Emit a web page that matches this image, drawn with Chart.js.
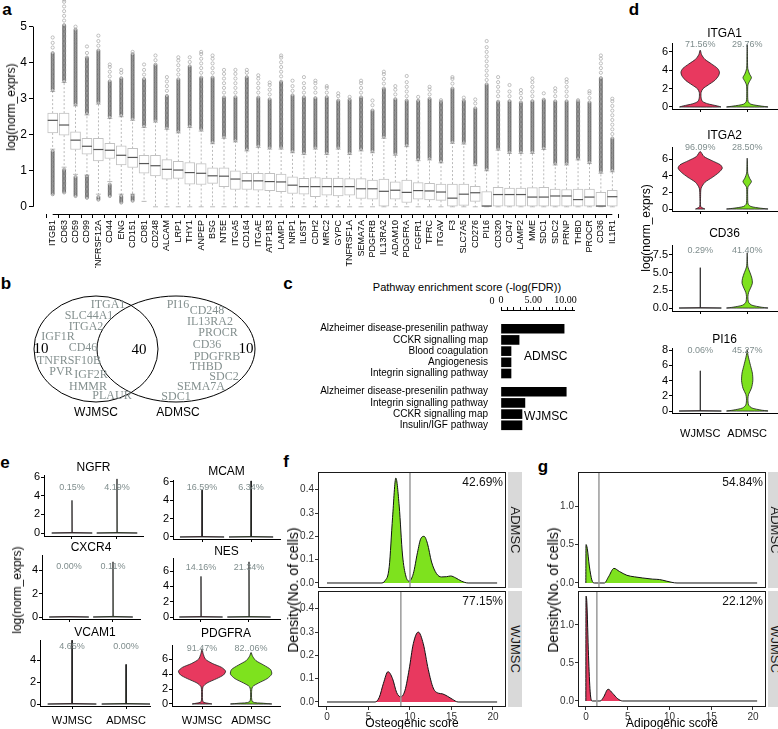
<!DOCTYPE html>
<html><head><meta charset="utf-8">
<script src="https://cdn.jsdelivr.net/npm/chart.js@4.4.1/dist/chart.umd.min.js"></script>
<style>
body{margin:0;background:#fff;}
#wrap{position:relative;width:778px;height:729px;overflow:hidden;background:#fff;font-family:"Liberation Sans",Arial,sans-serif;}
canvas{position:absolute;}
.t{position:absolute;white-space:nowrap;color:#000;line-height:1;}
.strip{position:absolute;background:#d9d9d9;overflow:hidden;}
</style></head><body><div id="wrap"></div>
<script>
// ================= DATA =================
// Panel a: expression box plots of 50 surface markers
const geneNames = ['ITGB1','CD63','CD59','CD99','TNFRSF12A','CD44','ENG','CD151','CD81','CD248','ALCAM','LRP1','THY1','ANPEP','BSG','NT5E','ITGA5','CD164','ITGAE','ATP1B3','LAMP1','NRP1','IL6ST','CDH2','MRC2','GYPC','TNFRSF1A','SEMA7A','PDGFRB','IL13RA2','ADAM10','PDGFRA','FGFR1','TFRC','ITGAV','F3','SLC7A5','CD276','PI16','CD320','CD47','LAMP2','MME','SDC1','SDC2','PRNP','THBD','PROCR','CD36','IL1R1'];
const boxQ1 = [2.05,1.99,1.59,1.46,1.27,1.34,1.16,1.09,0.93,0.86,0.77,0.79,0.63,0.62,0.65,0.56,0.48,0.48,0.46,0.45,0.42,0.37,0.35,0.28,0.32,0.30,0.32,0.23,0.21,0.02,0.21,0.12,0.21,0.19,0.18,0.02,0.04,0.15,0.00,0.02,0.02,0.02,0.02,0.02,0.02,0.02,0.02,0.02,0.00,0.02];
const boxMedian = [2.40,2.27,1.85,1.68,1.59,1.57,1.43,1.37,1.20,1.14,1.04,1.02,0.95,0.93,0.86,0.85,0.77,0.72,0.72,0.70,0.69,0.60,0.56,0.56,0.56,0.56,0.56,0.50,0.50,0.43,0.46,0.40,0.45,0.44,0.41,0.24,0.35,0.39,0.02,0.34,0.34,0.34,0.27,0.27,0.30,0.30,0.20,0.27,0.02,0.28];
const boxQ3 = [2.60,2.60,2.08,1.90,1.90,1.76,1.69,1.62,1.43,1.43,1.31,1.26,1.23,1.20,1.08,1.08,1.00,0.93,0.93,0.93,0.91,0.83,0.79,0.81,0.80,0.80,0.78,0.78,0.74,0.77,0.69,0.74,0.67,0.65,0.63,0.63,0.63,0.57,0.42,0.54,0.52,0.52,0.53,0.54,0.49,0.48,0.49,0.49,0.40,0.46];
const whiskerHigh = [3.20,3.45,2.80,2.55,2.85,2.45,2.50,2.40,2.20,2.35,2.15,2.05,2.20,2.10,1.75,1.90,1.80,1.55,1.65,1.60,1.60,1.50,1.45,1.60,1.45,1.60,1.45,1.55,1.50,1.90,1.43,1.67,1.28,1.30,1.22,1.76,1.74,1.14,1.00,1.57,1.48,1.48,1.48,1.59,1.16,1.16,1.30,1.20,0.93,0.97];
const whiskerLow = [1.60,1.10,0.90,0.88,0.35,0.70,0.35,0.35,0.15,0,0,0,0,0,0,0,0,0,0,0,0,0,0,0,0,0,0,0,0,0,0,0,0,0,0,0,0,0,0,0,0,0,0,0,0,0,0,0,0,0];
const outlierDenseTop = [4.30,5.05,4.95,4.15,4.35,3.50,3.60,4.25,3.55,3.95,3.10,3.55,3.90,3.60,3.60,3.05,3.05,3.60,3.05,3.00,3.50,3.10,3.05,3.05,3.05,2.95,3.00,3.05,2.70,3.30,3.00,2.95,2.95,3.00,2.95,3.30,2.95,2.75,3.40,2.95,2.95,2.90,2.95,3.00,2.95,2.95,2.95,2.90,3.60,1.90];
const outlierMax = [4.70,5.75,5.00,4.45,4.75,3.95,3.80,4.30,3.95,4.20,3.60,4.15,4.15,4.30,4.20,3.80,3.80,3.80,3.65,3.45,4.20,3.50,3.60,3.50,3.35,3.15,3.05,3.50,2.95,3.75,3.35,3.63,3.05,3.33,2.96,3.60,3.03,2.98,4.60,3.60,3.38,3.24,3.56,3.15,3.29,3.54,2.96,3.21,4.20,3.00];
const lowOutlierFrom = [0.35,0.40,0.30,0.25,0.20,0.30,0.12,0.17];
const lowOutlierTo   = [1.55,1.05,0.85,0.85,0.30,0.65,0.30,0.32];
const aYTicks = [0,1,2,3,4,5];

// Panel b: Venn diagram
const vennSets = ['WJMSC','ADMSC'];
const vennCounts = [10, 40, 10];
const wjOnlyGenes = ['ITGA1','SLC44A1','ITGA2','IGF1R','CD46','TNFRSF10B','PVR','IGF2R','HMMR','PLAUR'];
const adOnlyGenes = ['PI16','CD248','IL13RA2','PROCR','CD36','PDGFRB','THBD','SDC2','SEMA7A','SDC1'];

// Panel c: pathway enrichment
const admscPathways = ['Alzheimer disease-presenilin pathway','CCKR signalling map','Blood coagulation','Angiogenesis','Integrin signalling pathway'];
const admscScores = [9.77, 2.8, 1.55, 1.55, 1.55];
const wjmscPathways = ['Alzheimer disease-presenilin pathway','Integrin signalling pathway','CCKR signalling map','Insulin/IGF pathway'];
const wjmscScores = [10.1, 3.7, 3.25, 3.25];
const scoreTickLabels = {0:'0', 5:'5.00', 10:'10.00'};

// Violin groups
const groupNames = ['WJMSC','ADMSC'];
// Panel d violins: [expression, half-width]
const ITGA1_WJ = [[0,0.44],[0.12,0.36],[0.35,0.16],[0.6,0.05],[1.0,0.02],[1.6,0.02],[2.0,0.06],[2.4,0.17],[2.9,0.31],[3.4,0.39],[3.8,0.41],[4.2,0.37],[4.7,0.24],[5.2,0.1],[5.7,0.03],[6.2,0]];
const ITGA1_AD = [[0,0.44],[0.1,0.3],[0.3,0.08],[0.6,0.02],[1.5,0.01],[2.4,0.015],[2.8,0.05],[3.2,0.09],[3.6,0.05],[4.2,0.012],[5.5,0.006],[6.8,0]];
const ITGA2_WJ = [[0,0.1],[0.1,0.06],[0.3,0.01],[1.5,0.008],[2.5,0.02],[3.2,0.1],[3.8,0.26],[4.4,0.4],[4.9,0.47],[5.3,0.43],[5.8,0.25],[6.3,0.08],[6.9,0]];
const ITGA2_AD = [[0,0.44],[0.1,0.28],[0.3,0.08],[0.6,0.02],[1.5,0.01],[2.6,0.015],[3.0,0.06],[3.3,0.09],[3.7,0.05],[4.3,0.012],[5.3,0.006],[6.1,0]];
const CD36_WJ = [[0,0.45],[0.05,0.004],[5.7,0]];
const CD36_AD = [[0,0.44],[0.12,0.3],[0.4,0.1],[0.8,0.03],[1.6,0.015],[2.2,0.03],[2.8,0.07],[3.5,0.11],[4.2,0.1],[5.0,0.06],[5.8,0.015],[6.8,0.005],[7.8,0]];
const PI16_WJ = [[0,0.45],[0.05,0.004],[5.3,0]];
const PI16_AD = [[0,0.44],[0.12,0.3],[0.4,0.1],[0.8,0.03],[1.6,0.015],[2.2,0.03],[3.0,0.09],[4.0,0.12],[5.0,0.11],[6.0,0.07],[7.0,0.03],[7.6,0.01],[8.1,0]];
const dGenes = ['ITGA1','ITGA2','CD36','PI16'];
const dPctWJ = ['71.56%','96.09%','0.29%','0.06%'];
const dPctAD = ['29.76%','28.50%','41.40%','45.27%'];

// Panel e violins
const NGFR_WJ = [[0,0.45],[0.05,0.004],[3.5,0]];
const NGFR_AD = [[0,0.45],[0.05,0.004],[5.8,0]];
const CXCR4_WJ = [[0,0.45],[0.04,0.003],[0.06,0]];
const CXCR4_AD = [[0,0.45],[0.05,0.004],[4.7,0]];
const VCAM1_WJ = [[0,0.45],[0.05,0.004],[5.8,0]];
const VCAM1_AD = [[0,0.45],[0.05,0.004],[3.6,0]];
const MCAM_WJ = [[0,0.45],[0.05,0.004],[5.1,0]];
const MCAM_AD = [[0,0.45],[0.05,0.004],[6.1,0]];
const NES_WJ = [[0,0.45],[0.05,0.004],[5.3,0]];
const NES_AD = [[0,0.45],[0.05,0.004],[7.2,0]];
const PDGFRA_WJ = [[0,0.2],[0.1,0.12],[0.3,0.02],[1.5,0.01],[2.3,0.02],[2.8,0.1],[3.4,0.3],[3.9,0.44],[4.4,0.48],[4.9,0.4],[5.4,0.22],[6.0,0.07],[6.8,0.02],[7.4,0]];
const PDGFRA_AD = [[0,0.42],[0.1,0.25],[0.3,0.03],[1.5,0.01],[2.3,0.03],[2.8,0.15],[3.4,0.33],[4.0,0.42],[4.6,0.4],[5.2,0.26],[5.8,0.1],[6.4,0.03],[6.9,0]];
const eGenes = ['NGFR','CXCR4','VCAM1','MCAM','NES','PDGFRA'];
const ePctWJ = ['0.15%','0.00%','4.65%','16.59%','14.16%','91.47%'];
const ePctAD = ['4.19%','0.11%','0.00%','6.34%','21.34%','82..06%'];

// Panels f, g: density of scores
const scoreTicks = [0,5,10,15,20];
const osteoAdmscX = [0,6.5,7.0,7.5,7.9,8.3,8.7,9.1,9.5,9.9,10.4,10.9,11.3,11.7,12.1,12.6,13.2,13.8,14.4,14.9,15.5,16.2,17.0,20.5];
const osteoAdmscY = [0,0,0.01,0.07,0.28,0.45,0.33,0.12,0.03,0.008,0.04,0.13,0.19,0.2,0.17,0.09,0.04,0.026,0.027,0.03,0.022,0.008,0,0];
const osteoWjmscX = [0,5.8,6.3,6.8,7.35,7.9,8.4,8.9,9.4,9.9,10.4,11.0,11.6,12.2,12.8,13.4,13.9,14.5,15.1,15.8,20.5];
const osteoWjmscY = [0,0,0.02,0.08,0.13,0.1,0.04,0.022,0.05,0.14,0.25,0.3,0.25,0.14,0.06,0.038,0.035,0.025,0.012,0,0];
const adipoAdmscX = [-0.02,0,0.15,0.4,0.7,1.0,2.2,2.7,3.35,4.0,4.9,5.8,6.8,8.0,8.8,9.6,10.3,10.9,20.5];
const adipoAdmscY = [0,0.5,0.45,0.22,0.04,0,0,0.08,0.19,0.15,0.1,0.08,0.065,0.05,0.045,0.025,0.008,0,0];
const adipoWjmscX = [-0.02,0,0.1,0.3,0.5,0.75,1.7,2.1,2.65,3.2,3.8,4.4,20.5];
const adipoWjmscY = [0,1.38,1.3,0.6,0.12,0,0,0.05,0.155,0.1,0.03,0,0];
const osteoThreshold = [10.0, 8.9];   // ADMSC, WJMSC
const adipoThreshold = [1.55, 1.3];
const osteoPct = ['42.69%','77.15%'];
const adipoPct = ['54.84%','22.12%'];

// ================= STYLE / HELPERS =================
const RED = '#E8395F', GREEN = '#7EE21E', PCTCOL = '#7f8d8d';
Chart.defaults.font.family = "'Liberation Sans', Arial, sans-serif";
Chart.defaults.color = '#000';
Chart.defaults.animation = false;
Chart.defaults.plugins.legend.display = false;
Chart.defaults.plugins.tooltip.enabled = false;
Chart.defaults.events = [];
Chart.defaults.responsive = false;
Chart.defaults.maintainAspectRatio = false;

const wrap = document.getElementById('wrap');
function place(area, m) {
  const c = document.createElement('canvas');
  const W = area.r - area.l + m.l + m.r, H = area.b - area.t + m.t + m.b;
  c.width = W; c.height = H;
  Object.assign(c.style, {left:(area.l - m.l)+'px', top:(area.t - m.t)+'px', width:W+'px', height:H+'px'});
  wrap.appendChild(c);
  return c;
}
function zeroPad(s){ s.paddingTop=0; s.paddingBottom=0; s.paddingLeft=0; s.paddingRight=0; }
const fixW = w => s => { s.width = w; zeroPad(s); };
const fixH = h => s => { s.height = h; zeroPad(s); };
function txt(str, x, y, o = {}) {
  const d = document.createElement('div');
  d.className = 't'; d.textContent = str;
  d.style.left = x + 'px'; d.style.top = y + 'px';
  d.style.fontSize = (o.size || 11) + 'px';
  if (o.family) d.style.fontFamily = o.family;
  if (o.bold) d.style.fontWeight = 'bold';
  if (o.color) d.style.color = o.color;
  let tf = 'translate(' + (o.align === 'left' ? '0' : o.align === 'right' ? '-100%' : '-50%') + ',-50%)';
  if (o.rot) tf += ' rotate(' + o.rot + 'deg)';
  d.style.transform = tf;
  wrap.appendChild(d);
  return d;
}
function seg(ctx, x1, y1, x2, y2){ ctx.beginPath(); ctx.moveTo(x1,y1); ctx.lineTo(x2,y2); ctx.stroke(); }
function ring(ctx, x, y, r){ ctx.beginPath(); ctx.arc(x,y,r,0,Math.PI*2); ctx.stroke(); }

// ================= PANEL LETTERS =================
[['a',7,9],['b',6,283],['c',288,283],['d',634,9],['e',5,462],['f',286,461],['g',543,466]]
  .forEach(([s,x,y]) => txt(s, x, y, {size:17, bold:true}));

// ================= PANEL a =================
const boxPlugin = {
  id: 'boxExtras',
  beforeDatasetsDraw(chart) {
    const {ctx, scales:{x, y}} = chart;
    ctx.save();
    geneNames.forEach((g, i) => {
      const px = x.getPixelForValue(i);
      ctx.strokeStyle = '#a9a9a9'; ctx.lineWidth = 0.8; ctx.setLineDash([2,2]);
      seg(ctx, px, y.getPixelForValue(boxQ3[i]), px, y.getPixelForValue(whiskerHigh[i]));
      if (whiskerLow[i] < boxQ1[i]) seg(ctx, px, y.getPixelForValue(boxQ1[i]), px, y.getPixelForValue(whiskerLow[i]));
      ctx.setLineDash([]);
      seg(ctx, px-2.5, y.getPixelForValue(whiskerHigh[i]), px+2.5, y.getPixelForValue(whiskerHigh[i]));
      seg(ctx, px-2.5, y.getPixelForValue(whiskerLow[i]), px+2.5, y.getPixelForValue(whiskerLow[i]));
      ctx.lineWidth = 0.55;
      ctx.strokeStyle = 'rgba(50,50,50,0.75)';
      for (let v = whiskerHigh[i] + 0.05; v <= outlierDenseTop[i]; v += 0.035) ring(ctx, px, y.getPixelForValue(v), 1.6);
      if (i < lowOutlierFrom.length) for (let v = lowOutlierFrom[i]; v <= lowOutlierTo[i]; v += 0.035) ring(ctx, px, y.getPixelForValue(v), 1.6);
      ctx.strokeStyle = '#999'; ctx.lineWidth = 0.6;
      for (let v = outlierDenseTop[i] + 0.12; v < outlierMax[i] - 0.05; v += 0.13) ring(ctx, px, y.getPixelForValue(v), 1.6);
      ring(ctx, px, y.getPixelForValue(outlierMax[i]), 1.6);
    });
    ctx.restore();
  },
  afterDatasetsDraw(chart) {
    const {ctx, scales:{x, y}, chartArea} = chart;
    ctx.save();
    ctx.strokeStyle = '#555'; ctx.lineWidth = 1.2;
    geneNames.forEach((g, i) => {
      const px = x.getPixelForValue(i), py = y.getPixelForValue(boxMedian[i]);
      seg(ctx, px-5, py, px+5, py);
    });
    ctx.strokeStyle = '#000'; ctx.lineWidth = 1;
    const ax = Math.round(chartArea.left) + 0.5;
    seg(ctx, ax, y.getPixelForValue(aYTicks[0]), ax, y.getPixelForValue(aYTicks[aYTicks.length-1]));
    const ay = Math.round(chartArea.bottom) + 0.5;
    seg(ctx, x.getPixelForValue(0), ay, x.getPixelForValue(geneNames.length-1), ay);
    ctx.restore();
  }
};
new Chart(place({l:33,t:0,r:632,b:214}, {l:33,t:0,r:8,b:54}), {
  type: 'bar',
  data: {datasets: [{data: geneNames.map((g,i) => ({x:i, y:[boxQ1[i], boxQ3[i]]})),
    backgroundColor:'#ffffff', borderColor:'#c2c2c2', borderWidth:1, borderSkipped:false, barThickness:10}]},
  options: {devicePixelRatio:1, layout:{padding:{top:0,right:8,left:0,bottom:0}, autoPadding:false},
    scales: {
      x: {type:'linear', min:-1.2, max:50.2, afterBuildTicks: s => { s.ticks = geneNames.map((g,i) => ({value:i})); }, afterFit: fixH(54),
          ticks:{autoSkip:false, minRotation:90, maxRotation:90, font:{size:9}, padding:2, callback: v => geneNames[Math.round(v)]},
          grid:{drawOnChartArea:false, drawTicks:true, tickLength:4, tickColor:'#000'}, border:{display:false}},
      y: {min:-0.2, max:5.74, afterBuildTicks: s => { s.ticks = aYTicks.map(v => ({value:v})); }, afterFit: fixW(33),
          ticks:{font:{size:12}, padding:2, callback: v => String(v)},
          grid:{drawOnChartArea:false, drawTicks:true, tickLength:4, tickColor:'#000'}, border:{display:false}}
    }},
  plugins: [boxPlugin]
});
txt('log(norm_exprs)', 11, 107, {size:12, rot:-90});

// ================= PANEL b =================
const vennLayout = {ellipses:[[96,349,62,53],[176,349,79,53]], counts:[[41,349],[139,350],[246,349]], setLabels:[[96,413],[178,413]],
  wj:[[108,305],[89,316],[86,327],[58,337],[83,348],[69,361],[61,372],[91,375],[88,387],[112,396]],
  ad:[[178,305],[207,311],[210,322],[218,333],[207,345],[217,357],[206,367],[224,377],[201,387],[176,397]]};
const vennPlugin = {
  id:'venn',
  afterDraw(chart) {
    const {ctx, scales:{x, y}} = chart;
    ctx.save();
    ctx.strokeStyle = '#000'; ctx.lineWidth = 1;
    vennLayout.ellipses.forEach(([cx,cy,rx,ry]) => {
      ctx.beginPath();
      ctx.ellipse(x.getPixelForValue(cx), y.getPixelForValue(cy), x.getPixelForValue(cx+rx)-x.getPixelForValue(cx), y.getPixelForValue(cy+ry)-y.getPixelForValue(cy), 0, 0, Math.PI*2);
      ctx.stroke();
    });
    ctx.textAlign = 'center'; ctx.textBaseline = 'middle';
    ctx.font = "12px 'Liberation Serif', serif"; ctx.fillStyle = '#84908f';
    wjOnlyGenes.forEach((g,i) => ctx.fillText(g, x.getPixelForValue(vennLayout.wj[i][0]), y.getPixelForValue(vennLayout.wj[i][1])));
    adOnlyGenes.forEach((g,i) => ctx.fillText(g, x.getPixelForValue(vennLayout.ad[i][0]), y.getPixelForValue(vennLayout.ad[i][1])));
    ctx.font = "15px 'Liberation Serif', serif"; ctx.fillStyle = '#000';
    vennCounts.forEach((n,i) => ctx.fillText(String(n), x.getPixelForValue(vennLayout.counts[i][0]), y.getPixelForValue(vennLayout.counts[i][1])));
    ctx.font = "12px 'Liberation Sans', sans-serif";
    vennSets.forEach((s,i) => ctx.fillText(s, x.getPixelForValue(vennLayout.setLabels[i][0]), y.getPixelForValue(vennLayout.setLabels[i][1])));
    ctx.restore();
  }
};
new Chart(place({l:0,t:285,r:262,b:425}, {l:0,t:0,r:0,b:0}), {
  type:'scatter', data:{datasets:[]},
  options:{devicePixelRatio:1, layout:{padding:0, autoPadding:false},
    scales:{x:{display:false, min:0, max:262}, y:{display:false, min:285, max:425, reverse:true}}},
  plugins:[vennPlugin]
});

// ================= PANEL c =================
const cRows = admscPathways.map((p,i) => i).concat(wjmscPathways.map((p,i) => 5.63 + i));
const cLabels = admscPathways.concat(wjmscPathways);
const cScores = admscScores.concat(wjmscScores);
const cPlugin = {
  id:'cExtras',
  afterDraw(chart) {
    const {ctx, scales:{x, y}, chartArea} = chart;
    ctx.save();
    ctx.font = "10px 'Liberation Serif', serif"; ctx.fillStyle = '#000'; ctx.textAlign = 'center'; ctx.textBaseline = 'middle';
    ctx.fillText('0', x.getPixelForValue(0) - 9, chartArea.top - 9);
    ctx.font = "12px 'Liberation Sans', sans-serif"; ctx.textAlign = 'left';
    ctx.fillText(groupNames[1], chartArea.left + 23, y.getPixelForValue(2.46));
    ctx.fillText(groupNames[0], chartArea.left + 23, y.getPixelForValue(7.85));
    ctx.restore();
  }
};
new Chart(place({l:501,t:310,r:574,b:440}, {l:205,t:14,r:10,b:0}), {
  type:'bar',
  data:{datasets:[{data: cScores.map((v,i) => ({x:v, y:cRows[i]})), backgroundColor:'#000', barThickness:9}]},
  options:{devicePixelRatio:1, indexAxis:'y', layout:{padding:{top:0,right:10,left:0,bottom:0}, autoPadding:false},
    scales:{
      x:{type:'linear', position:'top', min:0, max:11.3, afterBuildTicks: s => { s.ticks = [0,1,2,3,4,5,6,7,8,9,10,11].map(v => ({value:v})); }, afterFit: fixH(14),
         ticks:{autoSkip:false, maxRotation:0, font:{size:10, family:"'Liberation Serif', serif"}, padding:1, callback: v => scoreTickLabels[v] || ''},
         grid:{drawOnChartArea:false, drawTicks:true, tickLength:3, tickColor:'#000'}, border:{display:true, color:'#000', width:1}},
      y:{type:'linear', reverse:true, min:-1.03, max:9.3, afterBuildTicks: s => { s.ticks = cRows.map(v => ({value:v})); }, afterFit: fixW(205),
         ticks:{autoSkip:false, font:{size:10}, padding:5, callback: (v, i) => cLabels[i]},
         grid:{display:false}, border:{display:false}}
    }},
  plugins:[cPlugin]
});
txt('Pathway enrichment score (-log(FDR))', 467, 287, {size:11});

// ================= VIOLINS (d, e) =================
function violinPoints(center, prof) {
  const left = prof.map(([v,w]) => ({x:center - w, y:v}));
  const right = prof.slice().reverse().map(([v,w]) => ({x:center + w, y:v}));
  return left.concat(right.slice(1)).concat([left[0]]);
}
const pctPlugin = {
  id:'pctLabels',
  afterDatasetsDraw(chart, args, opts) {
    const {ctx, scales:{x}, chartArea} = chart;
    ctx.save();
    ctx.font = "9px 'Liberation Sans', sans-serif"; ctx.fillStyle = PCTCOL; ctx.textAlign = 'center'; ctx.textBaseline = 'middle';
    opts.texts.forEach((t,i) => ctx.fillText(t, x.getPixelForValue(i+1), chartArea.top + opts.dy));
    ctx.restore();
  }
};
function violinChart(cfg) {
  const m = {l:30, t:8, r:1, b:cfg.xlabels ? cfg.bottom : 4};
  const mk = (c, prof, color) => ({data:violinPoints(c, prof), showLine:true, fill:'shape', backgroundColor:color,
    borderColor:'#1a1a1a', borderWidth:0.8, pointRadius:0, tension: prof.length > 3 ? 0.25 : 0});
  new Chart(place(cfg.area, m), {
    type:'scatter',
    data:{datasets:[mk(1, cfg.wj, RED), mk(2, cfg.ad, GREEN)]},
    options:{devicePixelRatio:1, layout:{padding:{top:m.t,right:1,left:0,bottom:0}, autoPadding:false},
      scales:{
        x:{type:'linear', min:cfg.xr[0], max:cfg.xr[1], afterBuildTicks: s => { s.ticks = [{value:1},{value:2}]; }, afterFit: fixH(m.b),
           ticks:{display:!!cfg.xlabels, font:{size:11}, padding:cfg.xpad || 4, maxRotation:0, autoSkip:false, callback: v => groupNames[Math.round(v)-1]},
           grid:{drawOnChartArea:false, drawTicks:true, tickLength:3, tickColor:'#000'}, border:{display:true, color:'#000', width:1}},
        y:{min:cfg.yr[0], max:cfg.yr[1], afterBuildTicks: s => { s.ticks = cfg.yt.map(v => ({value:v})); }, afterFit: fixW(m.l),
           ticks:{font:{size:11}, padding:1, callback: cfg.fmt || (v => String(v))},
           grid:{drawOnChartArea:false, drawTicks:true, tickLength:3, tickColor:'#000'}, border:{display:true, color:'#000', width:1}}
      },
      plugins:{pctLabels:{texts:cfg.pct, dy:cfg.pctY - cfg.area.t}}},
    plugins:[pctPlugin]
  });
  txt(cfg.title, (cfg.area.l + cfg.area.r)/2, cfg.titleY, {size:12});
}
const dX = [0.4, 2.634];
violinChart({area:{l:672,t:43,r:777,b:109}, xr:dX, yr:[-0.22,6.98], yt:[0,2,4,6], wj:ITGA1_WJ, ad:ITGA1_AD, title:dGenes[0], titleY:33, pct:[dPctWJ[0],dPctAD[0]], pctY:45});
violinChart({area:{l:672,t:147,r:777,b:211}, xr:dX, yr:[-0.24,7.44], yt:[0,2,4,6], wj:ITGA2_WJ, ad:ITGA2_AD, title:dGenes[1], titleY:135, pct:[dPctWJ[1],dPctAD[1]], pctY:148});
violinChart({area:{l:672,t:245,r:777,b:311}, xr:dX, yr:[-0.42,8.9], yt:[0,2.5,5,7.5], fmt: v => v.toFixed(1), wj:CD36_WJ, ad:CD36_AD, title:dGenes[2], titleY:233, pct:[dPctWJ[2],dPctAD[2]], pctY:251});
violinChart({area:{l:672,t:348,r:777,b:413}, xr:dX, yr:[-0.26,8.3], yt:[0,2,4,6,8], wj:PI16_WJ, ad:PI16_AD, title:dGenes[3], titleY:339, pct:[dPctWJ[3],dPctAD[3]], pctY:351, xlabels:true, bottom:27, xpad:11});
txt('log(norm_exprs)', 646, 228, {size:12, rot:-90});

violinChart({area:{l:44,t:475,r:143,b:536}, xr:[0.378,2.578], yr:[-0.32,6.22], yt:[0,2,4,6], wj:NGFR_WJ, ad:NGFR_AD, title:eGenes[0], titleY:467, pct:[ePctWJ[0],ePctAD[0]], pctY:488});
violinChart({area:{l:42,t:555,r:140,b:619}, xr:[0.386,2.614], yr:[-0.17,5.28], yt:[0,1,2,3,4], wj:CXCR4_WJ, ad:CXCR4_AD, title:eGenes[1], titleY:547, pct:[ePctWJ[1],ePctAD[1]], pctY:567});
violinChart({area:{l:40,t:640,r:150,b:706}, xr:[0.407,2.444], yr:[-0.18,5.82], yt:[0,2,4], wj:VCAM1_WJ, ad:VCAM1_AD, title:eGenes[2], titleY:632, pct:[ePctWJ[2],ePctAD[2]], pctY:647, xlabels:true, bottom:21, xpad:5});
violinChart({area:{l:173,t:480,r:280,b:539}, xr:[0.408,2.59], yr:[-0.22,6.2], yt:[0,2,4,6], wj:MCAM_WJ, ad:MCAM_AD, title:eGenes[3], titleY:471, pct:[ePctWJ[3],ePctAD[3]], pctY:488});
violinChart({area:{l:173,t:558,r:280,b:619}, xr:[0.417,2.646], yr:[-0.26,7.7], yt:[0,2,4,6], wj:NES_WJ, ad:NES_AD, title:eGenes[4], titleY:551, pct:[ePctWJ[4],ePctAD[4]], pctY:568});
violinChart({area:{l:172,t:645,r:280,b:706}, xr:[0.388,2.59], yr:[-0.27,7.9], yt:[0,2,4,6], wj:PDGFRA_WJ, ad:PDGFRA_AD, title:eGenes[5], titleY:633, pct:[ePctWJ[5],ePctAD[5]], pctY:649, xlabels:true, bottom:21, xpad:5});
txt('log(norm_exprs)', 17, 590, {size:12, rot:-90});

// ================= DENSITY (f, g) =================
const densPlugin = {
  id:'densExtras',
  afterDatasetsDraw(chart, args, opts) {
    const {ctx, scales:{x}, chartArea:a} = chart;
    ctx.save();
    ctx.strokeStyle = '#9a9a9a'; ctx.lineWidth = 1.5;
    const tx = x.getPixelForValue(opts.threshold);
    seg(ctx, tx, a.top, tx, a.bottom);
    ctx.strokeStyle = '#1a1a1a'; ctx.lineWidth = 1;
    ctx.strokeRect(Math.round(a.left)+0.5, Math.round(a.top)+0.5, Math.round(a.right-a.left)-1, Math.round(a.bottom-a.top)-1);
    ctx.font = "12px 'Liberation Sans', sans-serif"; ctx.fillStyle = '#111'; ctx.textAlign = 'right'; ctx.textBaseline = 'middle';
    ctx.fillText(opts.pct, a.right - 3, a.top + 11);
    ctx.restore();
  }
};
function densityChart(cfg) {
  const m = {l:26, t:0, r:0, b:cfg.xlabels ? 15 : 0};
  new Chart(place(cfg.area, m), {
    type:'line',
    data:{datasets:[{data: cfg.xs.map((v,i) => ({x:v, y:cfg.ys[i]})), fill:'origin', backgroundColor:cfg.color,
      borderColor:'#111', borderWidth:1, pointRadius:0, cubicInterpolationMode:'monotone'}]},
    options:{devicePixelRatio:1, layout:{padding:{top:0,right:0,left:0,bottom:0}, autoPadding:false},
      scales:{
        x:{type:'linear', min:cfg.xr[0], max:cfg.xr[1], afterBuildTicks: s => { s.ticks = scoreTicks.map(v => ({value:v})); }, afterFit: fixH(m.b),
           ticks:{display:!!cfg.xlabels, font:{size:10}, color:'#333', padding:1, maxRotation:0, autoSkip:false},
           grid:{drawOnChartArea:false, drawTicks:!!cfg.xlabels, tickLength:3, tickColor:'#333'}, border:{display:false}},
        y:{min:cfg.yr[0], max:cfg.yr[1], afterBuildTicks: s => { s.ticks = cfg.yt.map(v => ({value:v})); }, afterFit: fixW(m.l),
           ticks:{font:{size:10}, color:'#333', padding:1, callback: v => v.toFixed(1)},
           grid:{drawOnChartArea:false, drawTicks:true, tickLength:3, tickColor:'#333'}, border:{display:false}}
      },
      plugins:{densExtras:{threshold:cfg.threshold, pct:cfg.pct}}},
    plugins:[densPlugin]
  });
}
const fX = [-1.084, 21.57], gX = [-0.958, 21.56];
densityChart({area:{l:318,t:472,r:506,b:588}, xr:fX, yr:[-0.0215,0.476], yt:[0,0.1,0.2,0.3,0.4], xs:osteoAdmscX, ys:osteoAdmscY, color:GREEN, threshold:osteoThreshold[0], pct:osteoPct[0]});
densityChart({area:{l:318,t:591,r:506,b:707}, xr:fX, yr:[-0.0215,0.476], yt:[0,0.1,0.2,0.3,0.4], xs:osteoWjmscX, ys:osteoWjmscY, color:RED, threshold:osteoThreshold[1], pct:osteoPct[1], xlabels:true});
densityChart({area:{l:578,t:472,r:766,b:588}, xr:gX, yr:[-0.065,1.442], yt:[0,0.5,1.0], xs:adipoAdmscX, ys:adipoAdmscY, color:GREEN, threshold:adipoThreshold[0], pct:adipoPct[0]});
densityChart({area:{l:578,t:591,r:766,b:707}, xr:gX, yr:[-0.079,1.447], yt:[0,0.5,1.0], xs:adipoWjmscX, ys:adipoWjmscY, color:RED, threshold:adipoThreshold[1], pct:adipoPct[1], xlabels:true});

function strip(label, l, t, w, h) {
  const d = document.createElement('div');
  d.className = 'strip';
  Object.assign(d.style, {left:l+'px', top:t+'px', width:w+'px', height:h+'px'});
  wrap.appendChild(d);
  txt(label, l + 7, t + h/2, {size:13, rot:90, color:'#1a1a1a'});
}
strip(groupNames[1], 508, 472, 14, 116); strip(groupNames[0], 508, 591, 14, 116);
strip(groupNames[1], 768, 472, 14, 116); strip(groupNames[0], 768, 591, 14, 116);
txt('Density(No. of cells)', 293, 590, {size:14, rot:-90});
txt('Density(No. of cells)', 553, 590, {size:14, rot:-90});
txt('Osteogenic score', 412, 723, {size:12});
txt('Adipogenic score', 672, 723, {size:12});
</script></body></html>
